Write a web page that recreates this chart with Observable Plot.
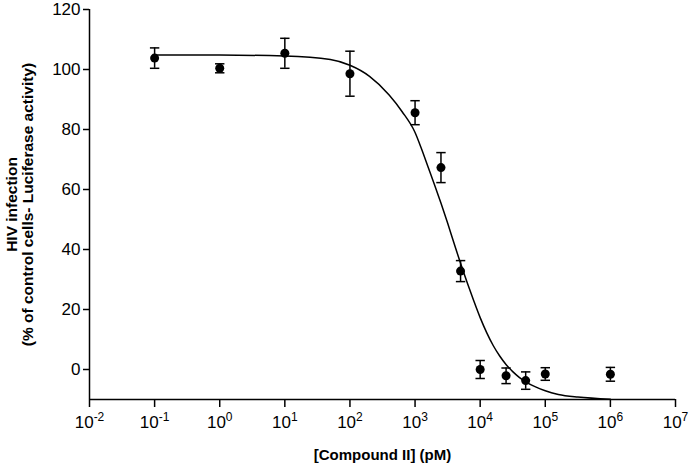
<!DOCTYPE html>
<html>
<head>
<meta charset="utf-8">
<script src="https://cdn.jsdelivr.net/npm/d3@7"></script>
<script src="https://cdn.jsdelivr.net/npm/@observablehq/plot@0.6"></script>
<style>
  html, body { margin: 0; padding: 0; background: #fff; }
  #chart { width: 690px; height: 465px; }
</style>
</head>
<body>
<div id="chart"></div>
<script>
// Measured points: concentration (pM), mean (% of control), error (±)
const conc    = [0.1, 1, 10, 100, 1000, 2500, 5000, 10000, 25000, 50000, 100000, 1000000];
const meanPct = [103.8, 100.4, 105.4, 98.6, 85.6, 67.3, 32.8, 0, -2.1, -3.7, -1.5, -1.6];
const errPct  = [3.4, 1.5, 5, 7.5, 4, 5, 3.5, 3, 2.6, 2.9, 2.1, 2.3];

// Fitted curve
const fitConc = [0.1, 1, 10, 50, 100, 200, 400, 630, 1000, 1259, 1585, 1995, 2512, 3162, 3981, 5012, 6310, 7943, 10000, 12589, 15849, 19953, 25119, 31623, 39811, 50119, 70795, 100000, 158489, 316228, 1000000];
const fitPct  = [104.8, 104.8, 104.5, 103.3, 101.4, 97.7, 91.5, 86, 79, 73.5, 67.5, 61.5, 55.3, 48.8, 42, 35.3, 29, 23, 17.3, 12.3, 8, 4.5, 1.6, -0.7, -2.6, -4.1, -5.8, -7.1, -8.3, -9.2, -9.9];

// Tick labels
const xTickExps = ["-2", "-1", "0", "1", "2", "3", "4", "5", "6", "7"];
const yTicks = [0, 20, 40, 60, 80, 100, 120];

const yTitle = "HIV infection\n(% of control cells- Luciferase activity)";
const xTitle = "[Compound II] (pM)";

const points = conc.map((c, i) => ({c, m: meanPct[i], e: errPct[i]}));
const fit = fitConc.map((c, i) => ({c, v: fitPct[i]}));
const xTicks = xTickExps.map(e => Math.pow(10, +e));

const capSymbol = {
  draw(ctx, size) {
    const r = Math.sqrt(size / Math.PI);
    ctx.moveTo(-r, 0);
    ctx.lineTo(r, 0);
  }
};

const chart = Plot.plot({
  width: 690,
  height: 465,
  marginLeft: 89,
  marginRight: 15,
  marginTop: 9,
  marginBottom: 66,
  style: {fontFamily: "'Liberation Sans', Arial, Helvetica, sans-serif", fontSize: "17px", color: "#000", background: "#fff"},
  x: {type: "log", domain: [0.01, 1e7]},
  y: {domain: [-10, 120]},
  marks: [
    Plot.axisX(xTicks, {tickSize: 8, tickPadding: 8, strokeWidth: 1.5, fontSize: 17,
      tickFormat: (d) => "10^" + xTickExps[xTicks.indexOf(d)], label: null}),
    Plot.axisY(yTicks, {tickSize: 6, tickPadding: 3, strokeWidth: 1.5, fontSize: 17, label: null}),
    Plot.ruleX([0.01], {strokeWidth: 1.5}),
    Plot.ruleY([-10], {strokeWidth: 1.5}),
    Plot.line(fit, {x: "c", y: "v", curve: "monotone-x", strokeWidth: 1.5, stroke: "#000"}),
    Plot.ruleX(points, {x: "c", y1: d => d.m - d.e, y2: d => d.m + d.e, strokeWidth: 1.5, stroke: "#000"}),
    Plot.dot(points, {x: "c", y: d => d.m - d.e, symbol: capSymbol, r: 4.7, stroke: "#000", strokeWidth: 1.5, fill: "none"}),
    Plot.dot(points, {x: "c", y: d => d.m + d.e, symbol: capSymbol, r: 4.7, stroke: "#000", strokeWidth: 1.5, fill: "none"}),
    Plot.dot(points, {x: "c", y: "m", r: 4.5, fill: "#000", stroke: "none"}),
    Plot.text([yTitle], {text: d => d, frameAnchor: "left", dx: -70, rotate: -90,
      fontWeight: "bold", fontSize: 15.5, lineHeight: 1.08, textAnchor: "middle", lineAnchor: "middle", fill: "#000"}),
    Plot.text([xTitle], {text: d => d, frameAnchor: "bottom", dy: 50, lineAnchor: "top",
      fontWeight: "bold", fontSize: 15, fill: "#000"})
  ]
});

// Render exponents as real superscripts
chart.querySelectorAll('g[aria-label="x-axis tick label"] text').forEach(t => {
  const s = t.textContent;
  const [base, exp] = s.split("^");
  t.textContent = "";
  const b = document.createElementNS("http://www.w3.org/2000/svg", "tspan");
  b.textContent = base;
  const e = document.createElementNS("http://www.w3.org/2000/svg", "tspan");
  e.textContent = exp;
  e.setAttribute("font-size", "12");
  e.setAttribute("dy", "-7");
  t.appendChild(b);
  t.appendChild(e);
});

document.getElementById("chart").appendChild(chart);
</script>
</body>
</html>
